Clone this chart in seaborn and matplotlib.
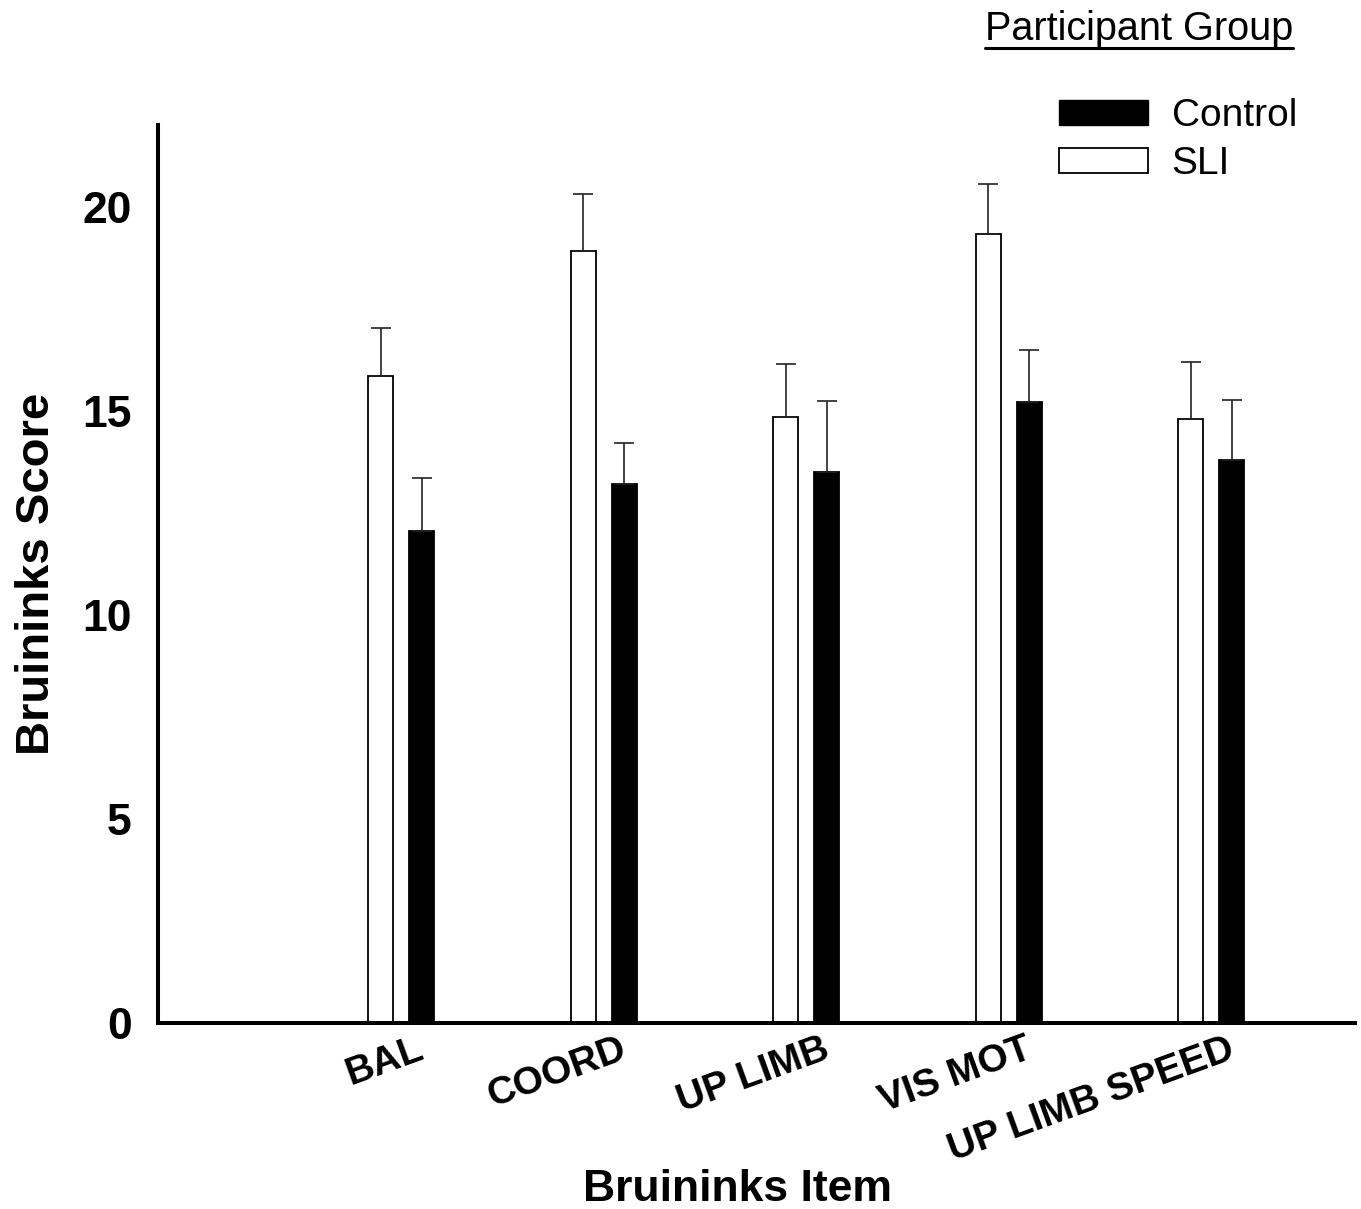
import numpy as np
import pandas as pd
import matplotlib
matplotlib.use("Agg")
import matplotlib.pyplot as plt
from matplotlib.patches import Patch
from matplotlib.lines import Line2D
import matplotlib.transforms as mtransforms
import seaborn as sns

# ---- data ----
categories = ["BAL", "COORD", "UP LIMB", "VIS MOT", "UP LIMB SPEED"]
groups = ["SLI", "Control"]
sli_mean = [15.86, 18.92, 14.85, 19.34, 14.80]
sli_err = [1.17, 1.40, 1.30, 1.22, 1.40]
control_mean = [12.06, 13.21, 13.50, 15.22, 13.80]
control_err = [1.30, 1.01, 1.75, 1.28, 1.47]
y_ticks = [0, 5, 10, 15, 20]

df = pd.DataFrame({
    "item": categories * 2,
    "group": ["SLI"] * len(categories) + ["Control"] * len(categories),
    "score": sli_mean + control_mean,
})
err_lookup = {("SLI", c): e for c, e in zip(categories, sli_err)}
err_lookup.update({("Control", c): e for c, e in zip(categories, control_err)})

sns.set_theme(style="white")
plt.rcParams["font.family"] = ["Liberation Sans", "DejaVu Sans"]
plt.rcParams["text.color"] = "black"
plt.rcParams["axes.labelcolor"] = "black"
plt.rcParams["xtick.color"] = "black"
plt.rcParams["ytick.color"] = "black"

fig = plt.figure(figsize=(13.61, 12.09), dpi=100)
ax = fig.add_axes([158 / 1361, 1 - 1023 / 1209, (1355 - 158) / 1361, (1023 - 125) / 1209])

order = [""] + categories
sns.barplot(data=df, x="item", y="score", hue="group", order=order,
            hue_order=groups, palette={"SLI": "white", "Control": "black"},
            edgecolor="black", linewidth=1.3, width=0.405, gap=0.39,
            errorbar=None, legend=False, ax=ax)

# one-sided (upper) error bars placed on seaborn's bars
for grp, cont in zip(groups, ax.containers):
    xs, ys, es = [], [], []
    for bar in cont:
        xc = bar.get_x() + bar.get_width() / 2
        h = bar.get_height()
        if np.isnan(h):
            continue
        cat = order[int(round(xc))]
        xs.append(xc)
        ys.append(h)
        es.append(err_lookup[(grp, cat)])
    ax.errorbar(xs, ys, yerr=[np.zeros(len(es)), es], fmt="none",
                ecolor="#222222", elinewidth=1.2, capsize=7.2, capthick=1.2, zorder=3)

ax.set_xlim(-0.202, 5.709)
ax.set_ylim(0, 22)
ax.set_yticks(y_ticks)
ax.set_yticklabels([str(t) for t in y_ticks], fontsize=32, fontweight="bold")
ax.set_xticks(range(1, len(categories) + 1))

ax.tick_params(axis="y", direction="in", length=14.4, width=2.5, pad=19)
ax.tick_params(axis="x", length=0, pad=6)

ax.set_xticklabels(categories, fontsize=28, fontweight="bold", rotation=20,
                   ha="right", va="top", rotation_mode="anchor")
offset = mtransforms.ScaledTranslation(15 / 100, 0, fig.dpi_scale_trans)
for lab in ax.get_xticklabels():
    lab.set_transform(lab.get_transform() + offset)

for s in ["top", "right"]:
    ax.spines[s].set_visible(False)
for s in ["left", "bottom"]:
    ax.spines[s].set_linewidth(2.9)
    ax.spines[s].set_color("black")

ax.set_ylabel("Bruininks Score", fontsize=34, fontweight="bold")
ax.yaxis.set_label_coords(-0.083, 0.5)
ax.set_xlabel("Bruininks Item", fontsize=32, fontweight="bold")
ax.xaxis.set_label_coords(0.4845, -0.163)

handles = [Patch(facecolor="black", edgecolor="black", label="Control"),
           Patch(facecolor="white", edgecolor="black", linewidth=1.3, label="SLI")]
fig.legend(handles=handles, loc="upper right",
           bbox_to_anchor=(1297 / 1361, 1 - 98 / 1209), frameon=False,
           fontsize=28, handlelength=2.3, handleheight=0.6,
           handletextpad=0.6, labelspacing=0.32, borderpad=0, borderaxespad=0)

t = fig.text(1139 / 1361, 1 - 40 / 1209, "Participant Group", ha="center",
             va="baseline", fontsize=28.5)
fig.canvas.draw()
bb = t.get_window_extent()
W, H = fig.bbox.width, fig.bbox.height
fig.add_artist(Line2D([bb.x0 / W, bb.x1 / W], [1 - 48 / 1209] * 2,
                      transform=fig.transFigure, color="black", linewidth=2.2))

fig.savefig("out.png", dpi=100, facecolor="white")
